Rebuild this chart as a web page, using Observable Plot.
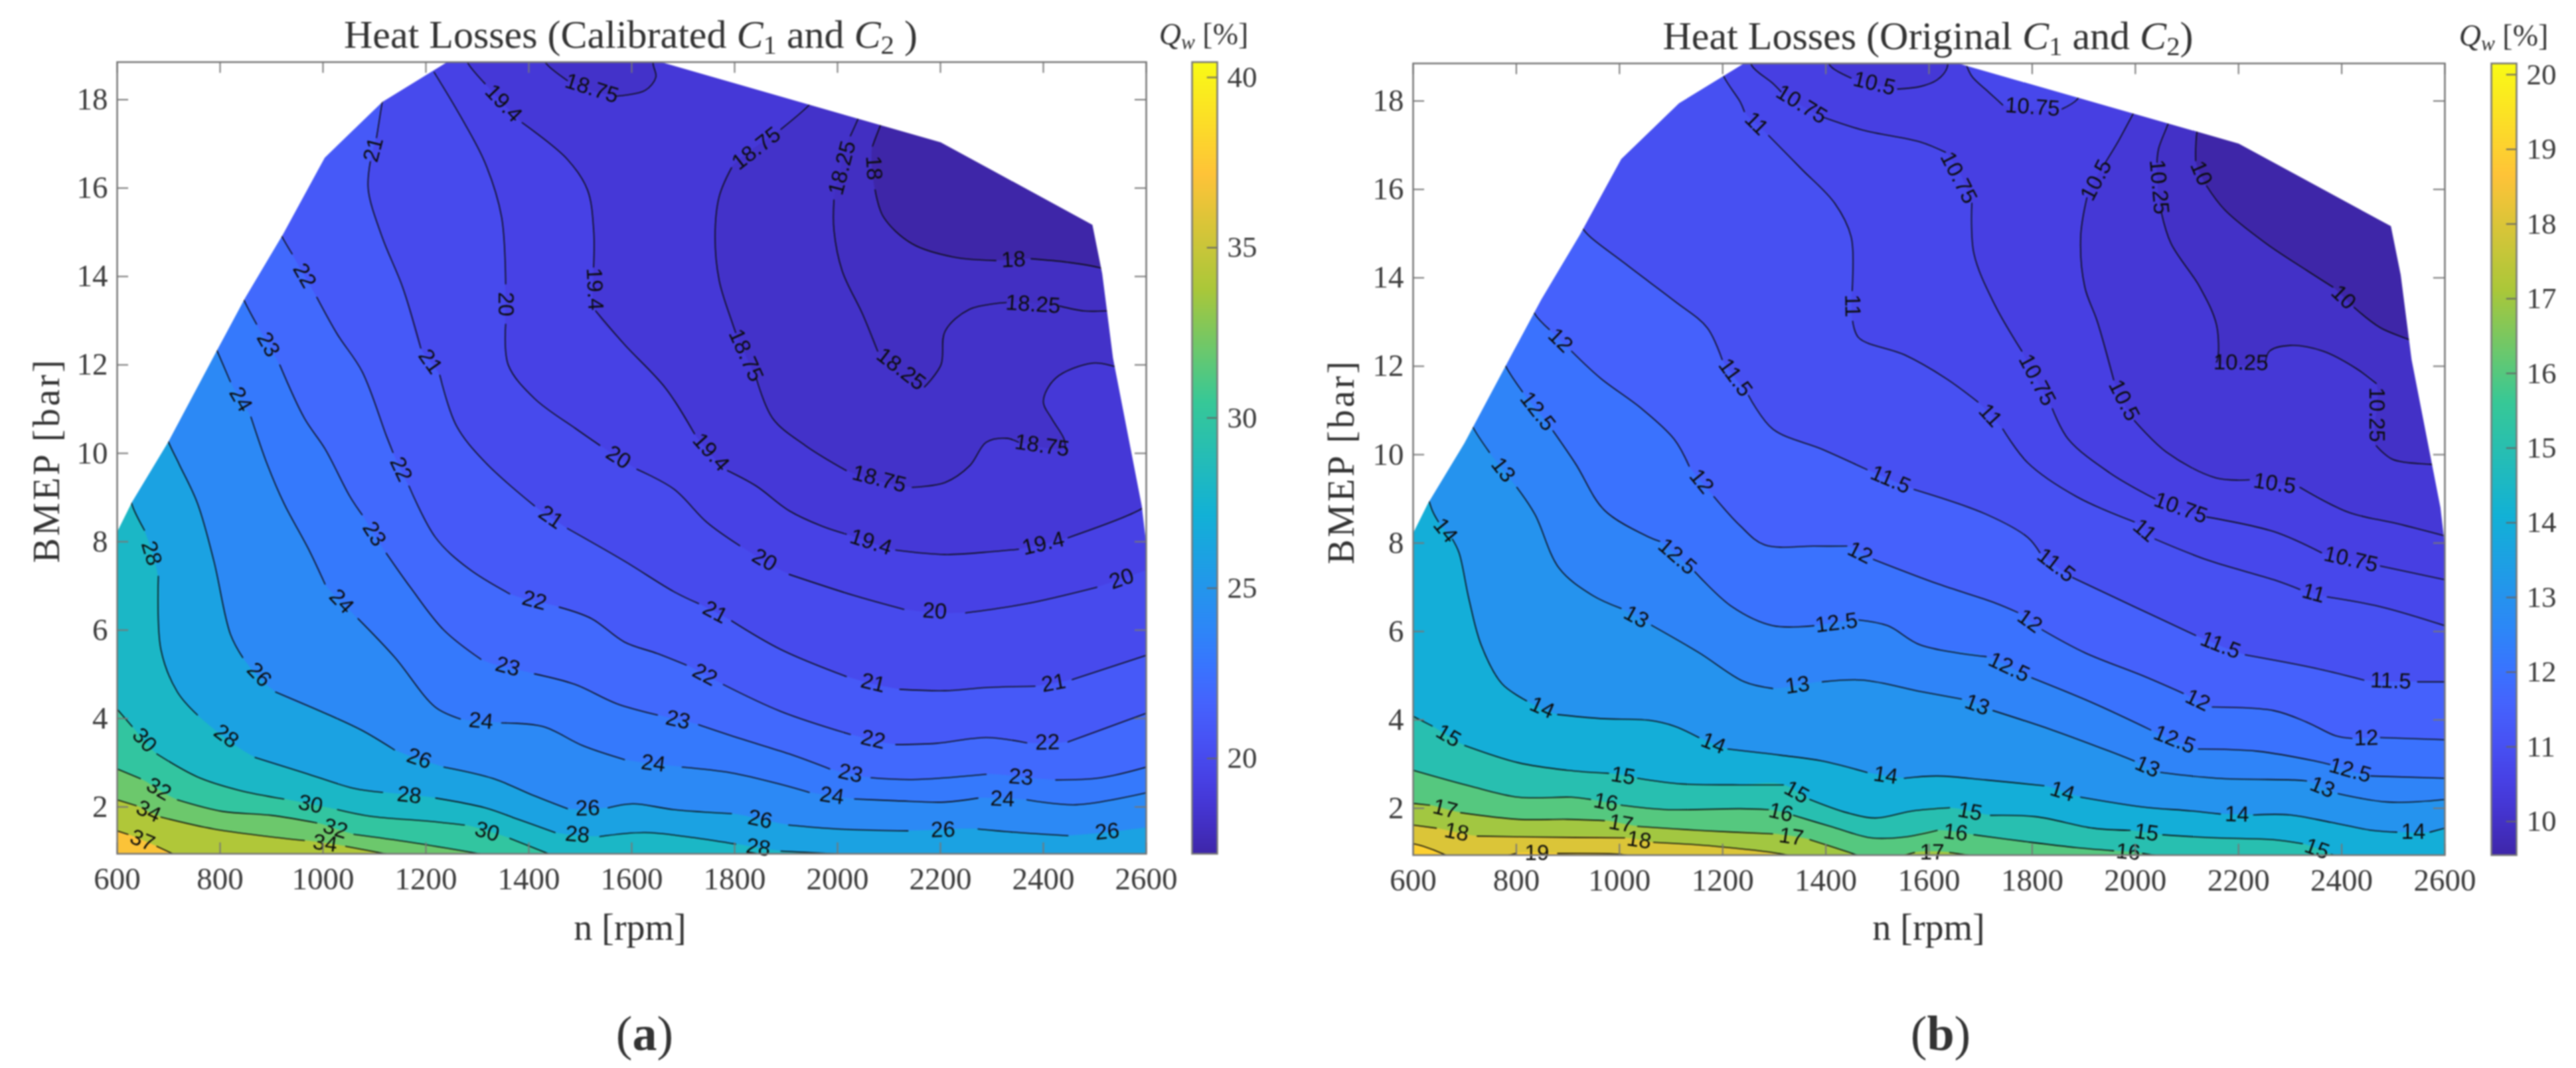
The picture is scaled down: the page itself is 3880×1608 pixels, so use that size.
<!DOCTYPE html>
<html><head><meta charset="utf-8">
<script src="https://cdn.jsdelivr.net/npm/d3@7"></script>
<script src="https://cdn.jsdelivr.net/npm/@observablehq/plot@0.6"></script>
<style>
html,body{margin:0;padding:0;background:#fff}
#page{position:relative;width:3880px;height:1608px;overflow:hidden;background:#fff;font-family:"Liberation Serif",serif;color:#333;filter:blur(.9px)}
.t{position:absolute;white-space:nowrap;line-height:1}
.t sub{font-size:.68em;line-height:0;vertical-align:-.22em}
</style></head><body><div id="page"></div>
<script>
// shared axis values
const xTicks=[600,800,1000,1200,1400,1600,1800,2000,2200,2400,2600];
const yTicks=[2,4,6,8,10,12,14,16,18];
const parulaStops=[0,2,4,6,9,12,15,18,27,36,45,54,63].map(r=>r/63);
const parula=["#3e26a8","#422ec0","#4537d5","#4741e5","#4752f4","#4563fd","#3875fe","#2d87f7","#12b1d6","#37c897","#abc739","#fec338","#f9fb15"];
const edgeN=[600,629,700,796,849,924,1004,1116,1250,1640,1945,2201,2496,2515,2536,2592,2600];
const edgeB=[8.2,8.88,10.25,12.35,13.5,14.97,16.68,17.94,18.9,18.9,17.88,17.03,15.16,14.06,12.15,8.8,8];

// panel (a) contour lines: [n, BMEP]; null = gap holding the label
const a18=[[2095,17.8],[2084,17.44],[2068,16.95],null,[2073,15.96],[2089,15.35],[2145,14.74],[2225,14.44],[2308,14.36],null,[2376,14.4],[2448,14.32],[2509,14.2],[2560,14]];
const a1825=[[2050,17.9],[2041,17.6],[2025,17.18],null,[1993,15.73],[1993,15.05],[2009,14.13],[2049,13.14],[2078,12.31],null,[2169,11.5],[2201,12],[2209,12.76],[2257,13.26],[2328,13.41],null,[2432,13.33],[2480,13.22],[2520,13.22],[2560,13.22]];
const a1875=[[1960,18.1],[1945,17.88],[1890,17.33],null,[1794,16.46],[1770,15.81],[1762,14.9],[1770,13.91],[1794,13],[1802,12.73],null,[1842,11.7],[1874,10.79],[1937,10.18],[2017,9.61],null,[2145,9.23],[2209,9.34],[2257,9.72],[2289,10.25],[2328,10.34],[2352,10.25],null,[2443,10.1],[2440,10.33],[2416,10.79],[2400,11.17],[2424,11.7],[2496,12.04],[2541,11.96],[2570,11.9]];
const a1875top=[[1425,19],[1435,18.8],[1475,18.43],null,[1570,18.08],[1626,18.21],[1647,18.51],[1642,18.78],[1640,19]];
const a194=[[1275,19],[1283,18.8],[1315,18.36],null,[1387,17.48],[1475,16.65],[1514,15.96],[1526,15.05],[1526,14.21],null,[1530,13.22],[1586,12.46],[1666,11.47],[1722,10.44],null,[1786,9.61],[1842,9.26],[1906,8.7],[1970,8.35],[2017,8.17],null,[2113,7.81],[2209,7.71],[2305,7.78],[2352,7.83],null,[2448,8.09],[2584,8.7],[2620,8.98]];
const a20=[[1216,18.62],[1267,17.63],[1315,16.57],[1347,15.35],[1355,13.83],null,[1355,12.92],[1360,12],[1411,11.24],[1491,10.56],[1538,10.18],null,[1610,9.64],[1682,9.19],[1746,8.44],[1810,7.91],null,[1906,7.26],[2033,6.78],[2129,6.47],null,[2249,6.39],[2368,6.6],[2504,6.97],null,[2600,7.35]];
const a21=[[1120,18.3],[1115,17.94],[1104,17.14],null,[1092,16.6],[1088,15.96],[1115,14.89],[1155,13.75],[1190,12.38],null,[1227,11.77],[1259,10.63],[1315,9.8],[1411,8.81],null,[1475,8.3],[1586,7.56],[1682,6.87],[1730,6.6],null,[1794,6.21],[1890,5.56],[2017,4.95],null,[2121,4.66],[2209,4.63],[2289,4.7],[2384,4.73],null,[2456,4.88],[2600,5.43]];
const a22=[[905,15.3],[919,14.93],[940,14.51],null,[988,13.53],[1028,12.69],[1076,11.85],[1123,10.4],[1136,10.02],null,[1167,9.26],[1219,8.09],[1283,7.39],[1363,6.82],null,[1459,6.52],[1522,6.26],[1586,5.73],[1650,5.47],[1706,5.21],null,[1778,4.77],[1890,4.16],[2025,3.64],null,[2113,3.41],[2193,3.44],[2289,3.57],[2368,3.45],null,[2448,3.47],[2600,4.12]];
const a23=[[835,13.8],[847,13.45],[871,12.92],null,[916,12],[964,10.79],[1004,10.1],[1052,9.03],[1076,8.61],null,[1123,7.74],[1171,6.95],[1235,6],[1307,5.34],null,[1411,5.01],[1490,4.77],[1570,4.34],[1650,4.08],null,[1730,3.86],[1810,3.55],[1906,3.2],[1985,2.86],null,[2065,2.66],[2145,2.62],[2289,2.74],null,[2424,2.61],[2512,2.66],[2600,2.9]];
const a24=[[780,12.7],[793,12.35],[820,11.62],null,[860,10.82],[892,9.74],[924,8.87],[972,7.83],[1004,7.04],null,[1068,6.26],[1139,5.39],[1219,4.25],[1267,3.99],null,[1347,3.9],[1427,3.82],[1506,3.38],[1586,3.07],null,[1698,2.9],[1794,2.77],[1890,2.51],[1945,2.33],null,[2033,2.18],[2113,2.14],[2209,2.11],[2273,2.2],null,[2368,2.16],[2464,2.05],[2600,2.32]];
const a26=[[690,10.6],[700,10.25],[721,9.74],[756,8.87],[788,7.56],[820,5.91],[844,5.38],null,[908,4.6],[1012,4.08],[1076,3.73],[1139,3.29],null,[1235,2.9],[1331,2.64],[1411,2.25],[1475,1.96],null,[1554,1.98],[1602,2.07],[1682,1.94],[1794,1.85],null,[1905,1.59],[2001,1.5],[2137,1.46],null,[2273,1.5],[2352,1.42],[2448,1.35],null,[2600,1.53]];
const a28=[[622,9.1],[632,8.74],[653,8.26],null,[680,7.22],[685,5.56],[717,4.6],[756,4.08],null,[868,3.12],[964,2.77],[1060,2.42],[1116,2.33],null,[1219,2.2],[1315,1.98],[1379,1.72],[1451,1.42],null,[1538,1.33],[1626,1.42],[1730,1.29],[1802,1.16],null,[1890,1],[2033,.92]];
const a30=[[600,4.21],[629,3.82],null,[677,3.2],[756,2.68],[836,2.38],[924,2.18],null,[1028,1.94],[1092,1.79],[1203,1.68],[1275,1.59],null,[1363,1.29],[1443,.92]];
const a32=[[600,2.86],[645,2.64],null,[717,2.16],[804,1.9],[900,1.81],[988,1.64],null,[1060,1.38],[1171,1.2],[1315,.92]];
const a34=[[600,2.16],[637,2.03],null,[685,1.77],[788,1.5],[916,1.3],[964,1.24],null,[1044,1.11],[1131,.92]];
const a37=[[600,1.46],[621,1.38],null,[677,1.11],[712,.92]];

// panel (b) contour lines
const b10=[[2130,17.7],[2120,17.34],[2117,16.92],[2117,16.65],null,[2138,16.08],[2173,15.54],[2253,14.78],[2332,14.17],[2383,13.79],null,[2424,13.33],[2475,12.87],[2531,12.6],[2560,12.45]];
const b1025=[[2075,17.9],[2065,17.53],[2045,16.92],[2042,16.61],null,[2050,15.5],[2069,14.78],[2125,13.79],[2157,12.95],[2160,12.18],[2157,12.09],null,[2252,12.07],[2260,12.34],[2300,12.47],[2364,12.34],[2428,11.95],[2467,11.61],null,[2467,10.2],[2499,9.89],[2571,9.78],[2620,9.75]];
const b105=[[2010,18],[1998,17.76],[1966,17.07],[1942,16.61],null,[1906,15.81],[1894,14.93],[1902,13.79],[1926,13.02],[1958,11.69],null,[1998,10.77],[2061,10.05],[2157,9.47],[2221,9.43],null,[2319,9.26],[2412,8.7],[2507,8.44],[2620,8.1]];
const b105top=[[1400,19.1],[1409,18.79],[1449,18.52],null,[1539,18.27],[1584,18.33],[1616,18.48],[1635,18.75],[1635,19.1]];
const b1075=[[1250,19.1],[1257,18.79],[1297,18.4],[1313,18.21],null,[1393,17.64],[1472,17.34],[1584,17.07],[1632,16.84],null,[1683,15.69],[1687,14.55],[1727,13.4],[1780,12.34],null,[1839,11.04],[1870,10.35],[1950,9.59],[2038,9],null,[2138,8.59],[2268,8.26],[2361,7.78],null,[2475,7.48],[2600,7.17]];
const b1075top=[[1670,18.9],[1683,18.56],[1711,18.25],[1743,17.91],null,[1858,17.82],[1886,18.02],[1900,18.3]];
const b11=[[1195,18.9],[1202,18.56],[1234,17.98],[1242,17.76],null,[1289,17.22],[1353,16.46],[1417,15.69],[1449,14.93],[1452,13.94],[1451,13.71],null,[1452,13.02],[1464,12.64],[1552,12.26],[1632,11.73],[1695,11.19],null,[1743,10.58],[1791,9.82],[1886,9.05],[1998,8.48],null,[2038,8.09],[2141,7.61],[2268,7.17],[2319,6.95],null,[2372,6.78],[2475,6.56],[2600,6.13]];
const b115=[[920,15.4],[931,15.08],[1011,14.32],[1106,13.48],[1170,12.87],[1199,12.15],null,[1250,11.34],[1297,10.58],[1393,10.12],[1480,9.66],null,[1571,9.21],[1711,8.65],[1791,8.13],[1815,7.78],null,[1878,7.22],[1998,6.56],[2117,5.91],null,[2213,5.47],[2348,5.17],[2443,4.9],null,[2547,4.86],[2600,4.86]];
const b12=[[826,13.5],[836,13.18],[864,12.83],null,[907,12.34],[963,11.73],[1043,11.04],[1106,10.35],[1135,9.74],null,[1183,9.05],[1234,8.39],[1281,7.96],[1377,7.93],[1441,7.93],null,[1492,7.63],[1616,7.08],[1727,6.65],[1772,6.43],null,[1819,6.04],[1902,5.52],[2014,5],[2093,4.6],null,[2149,4.29],[2268,4.21],[2332,3.95],[2388,3.64],[2420,3.58],null,[2475,3.6],[2600,3.55]];
const b125=[[770,12.3],[780,11.99],[812,11.42],null,[871,10.54],[915,9.79],[971,8.74],[1058,8.13],[1078,8.04],null,[1146,7.35],[1218,6.56],[1297,6.13],[1377,6.13],null,[1464,6.26],[1520,6.13],[1584,5.69],[1711,5.43],null,[1799,4.95],[1918,4.38],[2030,3.77],null,[2122,3.34],[2237,3.29],[2348,3.07],[2377,2.99],null,[2456,2.73],[2600,2.68]];
const b13=[[705,10.95],[716,10.62],[748,10.05],null,[801,9.26],[836,8.65],[883,7.43],[947,6.82],[1003,6.52],null,[1062,6.14],[1154,5.52],[1242,4.86],[1297,4.71],null,[1393,4.86],[1472,4.9],[1584,4.64],[1663,4.47],null,[1724,4.21],[1839,3.77],[1950,3.29],[1998,3.07],null,[2049,2.81],[2157,2.68],[2308,2.64],[2332,2.62],null,[2393,2.33],[2491,2.14],[2600,2.2]];
const b14=[[625,9.2],[637,8.74],[649,8.48],null,[676,8.09],[689,7.78],[708,6.74],[732,5.69],[772,4.82],[820,4.43],null,[880,4.12],[963,4.03],[1058,3.99],[1106,3.86],[1154,3.6],null,[1210,3.34],[1313,3.2],[1393,3.07],[1480,2.81],null,[1552,2.68],[1616,2.73],[1711,2.64],[1823,2.51],null,[1894,2.25],[2014,2.03],[2109,1.94],[2165,1.87],null,[2229,1.85],[2300,1.85],[2380,1.68],[2459,1.5],[2507,1.46],null,[2571,1.46],[2600,1.55]];
const b15=[[600,4.08],[637,3.86],null,[700,3.42],[804,3.03],[899,2.86],[979,2.79],null,[1035,2.68],[1122,2.55],[1234,2.53],[1318,2.53],null,[1369,2.2],[1441,1.9],[1496,1.78],[1568,1.94],[1640,2.01],null,[1719,1.84],[1807,1.81],[1918,1.55],[1990,1.5],null,[2053,1.4],[2157,1.33],[2268,1.29],[2324,1.2],null,[2380,.96],[2395,.9]];
const b16=[[600,2.86],[708,2.51],[804,2.25],[907,2.25],[944,2.2],null,[1003,2.07],[1090,1.97],[1234,1.99],[1289,1.97],null,[1337,1.84],[1409,1.59],[1488,1.33],[1552,1.35],[1616,1.5],null,[1687,1.4],[1791,1.24],[1886,1.11],[1958,1.04],null,[2014,.98],[2060,.9]];
const b17=[[600,2.11],[632,2.07],null,[692,1.9],[804,1.75],[899,1.75],[971,1.72],null,[1035,1.59],[1154,1.5],[1297,1.42],null,[1369,1.29],[1456,.96],[1470,.9]];
const b17low=[[1540,.9],[1572,1],null,[1640,1],[1700,.9]];
const b18=[[600,1.62],[645,1.55],null,[724,1.37],[835,1.35],[1010,1.33],null,[1066,1.23],[1186,1.14],[1313,.97],[1340,.9]];
const b19=[[600,1.2],[620,1.14],[660,.96],[670,.9]];
const b19low=[[770,.9],[800,.98],null,[880,.98],[1000,.96],[1030,.9]];

const panelA=[[18,a18],[18.25,a1825],[18.75,a1875],[19.4,a194],[20,a20],[21,a21],[22,a22],[23,a23],[24,a24],[26,a26],[28,a28],[30,a30],[32,a32],[34,a34],[37,a37]];
const patchesA=[[18.75,18.25,a1875top,"top"]];
const panelB=[[10,b10],[10.25,b1025],[10.5,b105],[10.75,b1075],[11,b11],[11.5,b115],[12,b12],[12.5,b125],[13,b13],[14,b14],[15,b15],[16,b16],[17,b17],[18,b18],[19,b19]];
const patchesB=[[10.5,10.25,b105top,"top"],[10.75,10.75,b1075top,"top"],[17,17,b17low,"bottom"],[19,19,b19low,"bottom"]];

const yMin=.94,yMax=18.85;
const page=document.getElementById("page");
const dup=p=>[p,p];

function build(lines,patches){
  const fills=[],strokes=[],labels=[];let id=0;
  const addStroke=(level,pts)=>{
    let seg=id;
    pts.forEach((p,i)=>{
      if(p===null){
        const a=pts[i-1],b=pts[i+1];
        let ang=Math.atan2(-(b[1]-a[1])*66.6,(b[0]-a[0])*.7755)*180/Math.PI;
        if(ang>90)ang-=180; if(ang<-90)ang+=180;
        labels.push({n:(a[0]+b[0])/2,b:(a[1]+b[1])/2,t:String(level),r:ang});
        seg+=.001;
      } else strokes.push({n:p[0],b:p[1],z:seg});
    });
  };
  const addFill=(level,path,closure)=>{
    const all=[...dup(path[0]),...path.slice(1,-1),...dup(path[path.length-1]),...closure.flatMap(dup),...dup(path[0])];
    all.forEach(p=>fills.push({n:p[0],b:p[1],n0:path[0][0],b0:path[0][1],z:id,v:level}));
  };
  for(const [level,pts] of lines){
    id++;
    const path=pts.filter(p=>p);
    const s=path[0],e=path[path.length-1];
    const closure=[];
    if(e[0]>=2500)closure.push([2700,e[1]],[2700,-2]);
    closure.push([500,-2]);
    if(s[0]<=600)closure.push([500,s[1]]);else closure.push([500,30],[s[0],30]);
    addFill(level,path,closure);
    addStroke(level,pts);
  }
  for(const [level,fillLevel,pts,side] of patches){
    id++;
    const path=pts.filter(p=>p);
    const s=path[0],e=path[path.length-1];
    const yy=side==="top"?30:-2;
    addFill(fillLevel,path,[[e[0],yy],[s[0],yy]]);
    addStroke(level,pts);
  }
  return {fills,strokes,labels};
}

function panel(o){
  const {fills,strokes,labels}=build(o.lines,o.patches);
  const edge=edgeN.map((n,i)=>({n,b:edgeB[i]}));
  const h=1608;
  const [lo,hi]=o.cdomain;
  const color={type:"linear",domain:parulaStops.map(t=>lo+t*(hi-lo)),range:parula};
  const fig=Plot.plot({
    width:1940,height:h,marginLeft:o.l,marginRight:1940-o.r,marginTop:o.t,marginBottom:h-o.b,
    x:{domain:[600,2600]},y:{domain:[yMin,yMax]},color,
    style:{position:"absolute",left:o.ox+"px",top:"0",background:"transparent",fontFamily:"Liberation Serif",overflow:"visible"},
    marks:[
      Plot.rect([lo],{x1:()=>600,x2:()=>2600,y1:()=>yMin,y2:()=>yMax,fill:d=>d}),
      Plot.area(fills,{x1:"n",y1:"b",x2:"n0",y2:"b0",z:"z",fill:"v",curve:"catmull-rom",clip:true}),
      Plot.line(strokes,{x:"n",y:"b",z:"z",stroke:"#0c0c0c",strokeWidth:1.6,curve:"catmull-rom",clip:true}),
      Plot.areaY(edge,{x:"n",y1:"b",y2:()=>yMax+.2,fill:"white",clip:true}),
      Plot.text(labels,{x:"n",y:"b",text:"t",rotate:"r",fontSize:33,fontFamily:"Liberation Sans",fill:"#0c0c0c"}),
      Plot.ruleX(xTicks,{y1:yMin,y2:yMin+.25,stroke:"#777",strokeWidth:2}),
      Plot.ruleX(xTicks,{y1:yMax-.25,y2:yMax,stroke:"#777",strokeWidth:2}),
      Plot.ruleY(yTicks,{x1:600,x2:622,stroke:"#777",strokeWidth:2}),
      Plot.ruleY(yTicks,{x1:2578,x2:2600,stroke:"#777",strokeWidth:2}),
      Plot.frame({stroke:"#777",strokeWidth:2.5}),
      Plot.axisX(xTicks,{anchor:"bottom",tickSize:0,tickPadding:20,fontSize:47,label:null,tickFormat:d=>String(d),fill:"#3a3a3a"}),
      Plot.axisY(yTicks,{anchor:"left",tickSize:0,tickPadding:14,fontSize:47,label:null,tickFormat:d=>String(d),fill:"#3a3a3a"})
    ]});
  page.appendChild(fig);
  const bar=Plot.plot({
    width:160,height:h,marginLeft:0,marginRight:160-o.cbw,marginTop:o.t,marginBottom:h-o.b,
    x:{domain:[0,1],axis:null},y:{domain:o.cdomain},color,
    style:{position:"absolute",left:o.cbx+"px",top:"0",background:"transparent",fontFamily:"Liberation Serif",overflow:"visible"},
    marks:[
      Plot.raster({fill:(x,y)=>y,x1:0,x2:1,y1:lo,y2:hi,width:2,height:600}),
      Plot.ruleY(o.cticks,{x1:.6,x2:1,stroke:"#666",strokeWidth:2}),
      Plot.frame({stroke:"#777",strokeWidth:2.5}),
      Plot.axisY(o.cticks,{anchor:"right",tickSize:0,tickPadding:15,fontSize:45,label:null,tickFormat:d=>String(d),fill:"#3a3a3a"})
    ]});
  page.appendChild(bar);
}

function note(html,x,y,size,extra,ls){
  const d=document.createElement("div");d.className="t";d.innerHTML=html;
  d.style.cssText+=`left:${x}px;top:${y}px;font-size:${size}px;transform:translate(-50%,-50%) ${extra||""};letter-spacing:${ls||0}px;`;
  page.appendChild(d);
}

panel({ox:0,l:176,r:1726,t:93,b:1285,lines:panelA,patches:patchesA,cdomain:[17.2,40.45],cticks:[20,25,30,35,40],cbx:1795,cbw:38});
panel({ox:1940,l:188,r:1742,t:95,b:1287,lines:panelB,patches:patchesB,cdomain:[9.55,20.15],cticks:[10,11,12,13,14,15,16,17,18,19,20],cbx:3752,cbw:38});

note("Heat Losses (Calibrated <i>C</i><sub>1</sub> and <i>C</i><sub>2</sub> )",950,52,60);
note("Heat Losses (Original <i>C</i><sub>1</sub> and <i>C</i><sub>2</sub>)",2904,54,60);
note("<i>Q<sub>w</sub></i>&nbsp;[%]",1813,52,46);
note("<i>Q<sub>w</sub></i>&nbsp;[%]",3771,54,46);
note("n [rpm]",949,1396,56);
note("n [rpm]",2905,1396,56);
note("BMEP [bar]",70,693,56,"rotate(-90deg)",3.6);
note("BMEP [bar]",2020,695,56,"rotate(-90deg)",3.6);
note("(<b>a</b>)",971,1556,74);
note("(<b>b</b>)",2923,1556,74);
</script></body></html>
